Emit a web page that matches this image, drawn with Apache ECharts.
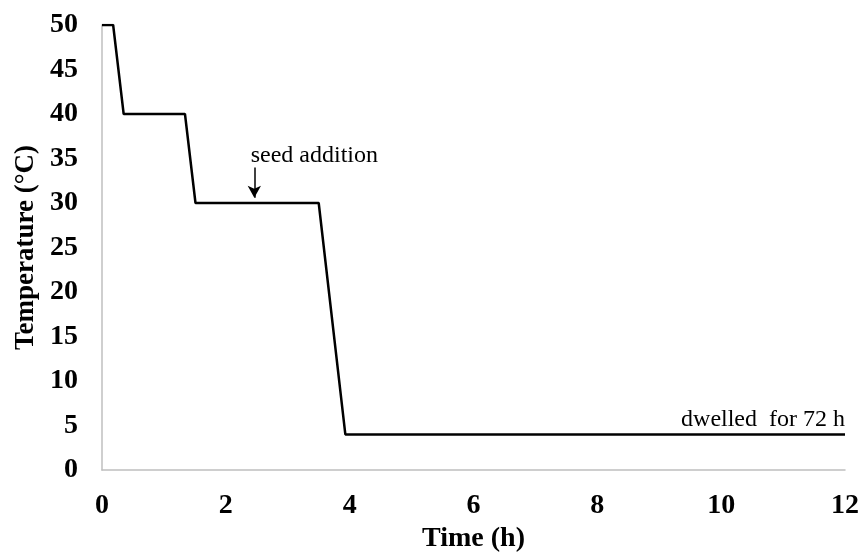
<!DOCTYPE html>
<html>
<head>
<meta charset="utf-8">
<script src="https://cdn.jsdelivr.net/npm/echarts@6/dist/echarts.min.js"></script>
<style>
  html, body { margin: 0; padding: 0; background: #ffffff; }
  #chart { width: 862px; height: 555px; }
</style>
</head>
<body>
<div id="chart"></div>
<script>
// 温度程序 (时间 h, 温度 °C)
var timeH = [0, 0.18, 0.35, 1.34, 1.51, 3.5, 3.93, 12];
var tempC = [50, 50, 40, 40, 30, 30, 4, 4];
var seedArrow = [[2.46, 34], [2.46, 30.6]];
var dwellNote = [12, 4];

var myChart = echarts.init(document.getElementById('chart'));
var font = '"Liberation Serif", "Times New Roman", serif';

var points = timeH.map(function (t, i) { return [t, tempC[i]]; });

var option = {
  backgroundColor: '#ffffff',
  animation: false,
  grid: {
    left: 102,
    right: 17,
    top: 25,
    bottom: 85,
    outerBoundsMode: 'none' // 不自动收缩网格
  },
  xAxis: {
    type: 'value',
    min: 0,
    max: 12,
    interval: 2,
    name: 'Time (h)',
    nameLocation: 'middle',
    nameGap: 54,
    nameTextStyle: { fontFamily: font, fontWeight: 'bold', fontSize: 28, color: '#000' },
    axisLine: { show: true, lineStyle: { color: '#bfbfbf', width: 1.5 } },
    axisTick: { show: false },
    splitLine: { show: false },
    axisLabel: { fontFamily: font, fontWeight: 'bold', fontSize: 28, color: '#000', margin: 22 }
  },
  yAxis: {
    type: 'value',
    min: 0,
    max: 50,
    interval: 5,
    name: 'Temperature (°C)',
    nameLocation: 'middle',
    nameGap: 61,
    nameTextStyle: { fontFamily: font, fontWeight: 'bold', fontSize: 27, color: '#000' },
    axisLine: { show: true, lineStyle: { color: '#bfbfbf', width: 1.5 } },
    axisTick: { show: false },
    splitLine: { show: false },
    axisLabel: { fontFamily: font, fontWeight: 'bold', fontSize: 28, color: '#000', margin: 24 }
  },
  series: [{
    type: 'line',
    data: points,
    symbol: 'none',
    lineStyle: { color: '#000', width: 2.5 },
    markLine: {
      silent: true,
      symbol: ['none', 'arrow'],
      symbolSize: [10, 12],
      lineStyle: { color: '#000', width: 1.5, type: 'solid' },
      label: { show: false },
      data: [[{ coord: seedArrow[0] }, { coord: seedArrow[1] }]]
    },
    markPoint: {
      silent: true,
      symbol: 'circle',
      symbolSize: 0,
      label: {
        show: true,
        fontFamily: font,
        fontSize: 24,
        color: '#000'
      },
      data: [{
        coord: seedArrow[0],
        label: { position: 'top', distance: 0, offset: [60, 0], formatter: 'seed addition' }
      }, {
        coord: dwellNote,
        label: { position: 'insideBottomRight', offset: [5, 2], formatter: 'dwelled  for 72 h' }
      }]
    }
  }]
};

myChart.setOption(option);
</script>
</body>
</html>
